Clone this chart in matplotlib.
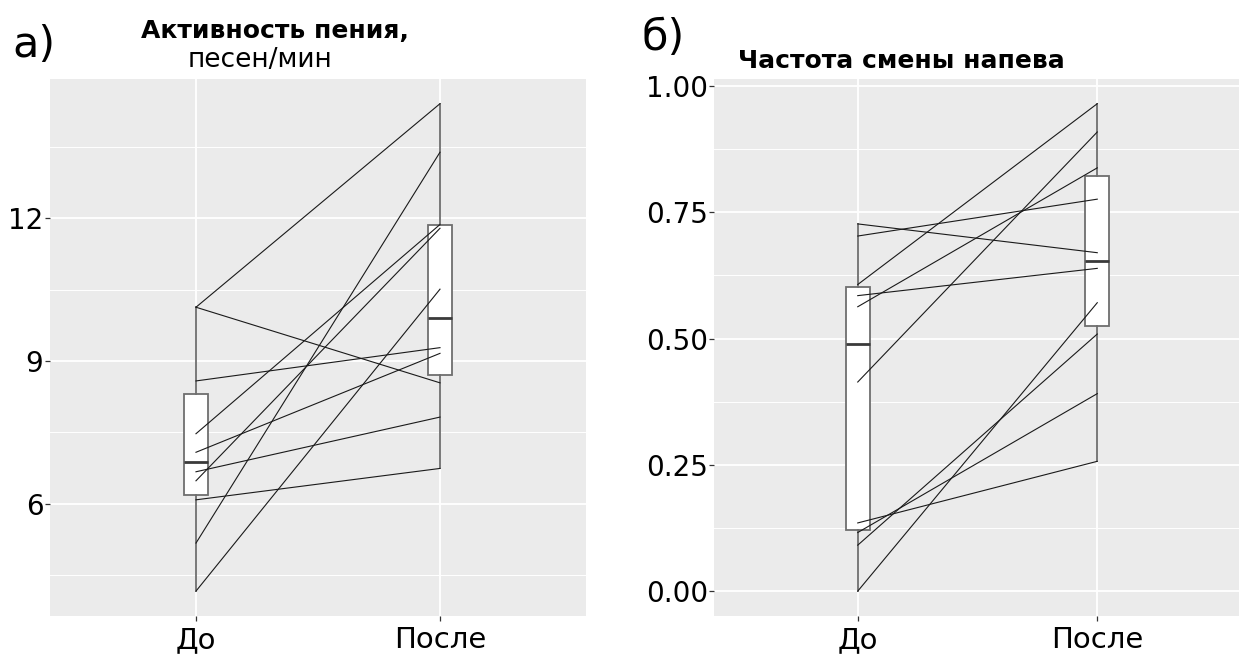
import numpy as np
import matplotlib
matplotlib.use("Agg")
import matplotlib.pyplot as plt
from matplotlib.ticker import MultipleLocator, FormatStrFormatter

# Data (paired values, one per bird)
groups = ["До", "После"]

song_before = [10.13, 10.13, 8.58, 7.47, 7.08, 6.67, 6.48, 6.08, 5.17, 4.16]
song_after = [14.41, 8.54, 9.28, 11.87, 9.16, 7.82, 11.79, 6.74, 13.39, 10.51]

switch_before = [0.727, 0.703, 0.607, 0.585, 0.563, 0.414, 0.135, 0.116, 0.091, 0.0]
switch_after = [0.670, 0.776, 0.965, 0.639, 0.838, 0.909, 0.257, 0.391, 0.509, 0.571]

plt.rcParams["font.family"] = ["DejaVu Sans"]

PANEL_BG = "#EBEBEB"
BOX_EDGE = "#6E6E6E"
LINE_COL = "#1A1A1A"


def paired_panel(ax, before, after, major, minor, fmt):
    ax.set_facecolor(PANEL_BG)
    for s in ax.spines.values():
        s.set_visible(False)

    # grid
    ax.set_axisbelow(True)
    ax.yaxis.set_major_locator(MultipleLocator(major))
    ax.yaxis.set_minor_locator(MultipleLocator(minor))
    ax.yaxis.set_major_formatter(FormatStrFormatter(fmt))
    ax.grid(which="major", color="white", linewidth=1.3)
    ax.grid(which="minor", axis="y", color="white", linewidth=0.7)

    # box plots
    ax.boxplot(
        [before, after],
        positions=[0, 1],
        widths=0.1,
        whis=1.5,
        showcaps=False,
        showfliers=False,
        patch_artist=True,
        boxprops=dict(facecolor="white", edgecolor=BOX_EDGE, linewidth=1.3),
        whiskerprops=dict(color=BOX_EDGE, linewidth=1.3),
        medianprops=dict(color="#3A3A3A", linewidth=2.0),
        zorder=2,
    )

    # paired lines
    for b, a in zip(before, after):
        ax.plot([0, 1], [b, a], color=LINE_COL, linewidth=0.8, zorder=3)

    vals = np.concatenate([before, after])
    span = vals.max() - vals.min()
    ax.set_ylim(vals.min() - 0.05 * span, vals.max() + 0.05 * span)
    ax.set_xlim(-0.6, 1.6)
    ax.set_xticks([0, 1])
    ax.set_xticklabels(groups, fontsize=21)
    ax.tick_params(axis="y", which="major", labelsize=20, length=3.5,
                   width=0.9, color="#333333", pad=1)
    ax.tick_params(axis="y", which="minor", length=0)
    ax.tick_params(axis="x", length=3.5, width=0.9, color="#333333", pad=4)


fig = plt.figure(figsize=(12.39, 6.55), dpi=100)

ax1 = fig.add_axes([0.040, 0.0603, 0.4333, 0.8186])
paired_panel(ax1, song_before, song_after, 3, 1.5, "%d")

ax2 = fig.add_axes([0.5763, 0.0603, 0.4253, 0.8186])
paired_panel(ax2, switch_before, switch_after, 0.25, 0.125, "%.2f")

# titles and panel letters
fig.text(12 / 1239, 1 - 57 / 655, "а)", fontsize=31, va="baseline", ha="left")
fig.text(275 / 1239, 1 - 38 / 655, "Активность пения,", fontsize=18,
         fontweight="bold", ha="center", va="baseline")
fig.text(260 / 1239, 1 - 67 / 655, "песен/мин", fontsize=19,
         ha="center", va="baseline")

fig.text(642 / 1239, 1 - 50 / 655, "б)", fontsize=31, va="baseline", ha="left")
fig.text(901 / 1239, 1 - 68 / 655, "Частота смены напева", fontsize=18,
         fontweight="bold", ha="center", va="baseline")

fig.savefig("out.png", dpi=100)
